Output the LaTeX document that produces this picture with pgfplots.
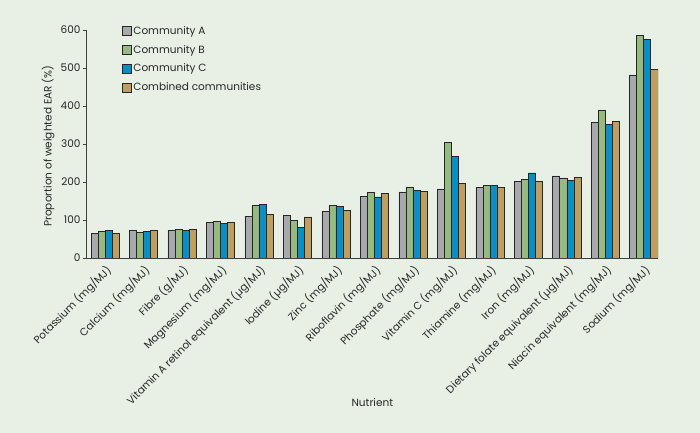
\documentclass[border=0pt]{standalone}
\usepackage{pgfplots}
\pgfplotsset{compat=1.18}
\usepackage{pgfplotstable}
\usepackage{fontspec}
\setmainfont{Poppins}
\definecolor{bg}{HTML}{E8F0E6}
\definecolor{cA}{HTML}{A7A9AC}
\definecolor{cB}{HTML}{97BA80}
\definecolor{cC}{HTML}{0B8EC3}
\definecolor{cD}{HTML}{BE9F62}
\pgfplotstableread{
idx A B C D
0 65 70 73 65
1 72 68 70 72
2 72 75.5 73 75
3 94 97 90 94
4 110.5 138.5 141 115
5 112 99 81 108
6 123 138.5 136 125
7 163 172 161 169
8 174 187 177 176
9 181.6 305 267.5 195.6
10 186 192 192 186
11 202.6 206 223.7 202.6
12 216 211 204 213
13 357 389.5 351 359
14 481.6 585 576 496.5
}\datatable
\begin{document}
\begin{tikzpicture}
\fill[bg] (0,0) rectangle (700bp,433bp);
\begin{axis}[
  at={(86.7bp,175bp)}, anchor=south west,
  scale only axis, width=571.3bp, height=228bp,
  font=\fontsize{10.5bp}{12.5bp}\selectfont,
  /pgf/number format/assume math mode=true,
  xmin=-0.477, xmax=14.37, ymin=0, ymax=600,
  axis x line=bottom, axis y line=left,
  axis line style={-, black!75, line width=0.8bp},
  ytick={0,100,...,600},
  xtick={0,...,14},
  xticklabels={Potassium (mg/MJ), Calcium (mg/MJ), Fibre (g/MJ), Magnesium (mg/MJ), Vitamin A retinol equivalent (µg/MJ), Iodine (µg/MJ), Zinc (mg/MJ), Riboflavin (mg/MJ), Phosphate (mg/MJ), Vitamin C (mg/MJ), Thiamine (mg/MJ), Iron (mg/MJ), Dietary folate equivalent (µg/MJ), Niacin equivalent (mg/MJ), Sodium (mg/MJ)},
  x tick label style={rotate=45, anchor=north east, inner sep=1bp, text=black!85},
  y tick label style={text=black!85, inner sep=2bp},
  x tick style={draw=none},
  y tick style={black!75, line width=0.8bp},
  tick align=outside, major tick length=4bp,
  xlabel={Nutrient},
  xlabel style={at={(axis description cs:0.5,-0.636)}, anchor=center, text=black!85},
  ylabel={Proportion of weighted EAR (\%)},
  ylabel style={at={(axis description cs:-0.0677,0.49)}, anchor=center, text=black!85},
  ybar, bar width=0.1825,
  every axis plot/.append style={draw=black!85, line width=0.6bp},
  legend style={at={(axis description cs:0.0618,1.026)}, anchor=north west,
    draw=none, fill=none, row sep=5.4bp, font=\fontsize{10.5bp}{12.5bp}\selectfont,
    text=black!85, inner sep=0pt},
  legend cell align=left,
  legend image code/.code={\draw[#1, line width=0.6bp] (-3bp,-4.3bp) rectangle (5.6bp,4.3bp);},
]
\addplot[fill=cA, bar shift=-0.27375] table[x=idx,y=A]{\datatable};
\addplot[fill=cB, bar shift=-0.09125] table[x=idx,y=B]{\datatable};
\addplot[fill=cC, bar shift=0.09125] table[x=idx,y=C]{\datatable};
\addplot[fill=cD, bar shift=0.27375] table[x=idx,y=D]{\datatable};
\legend{Community A, Community B, Community C, Combined communities}
\end{axis}
\pgfresetboundingbox
\path (0,0) rectangle (700bp,433bp);
\end{tikzpicture}
\end{document}
